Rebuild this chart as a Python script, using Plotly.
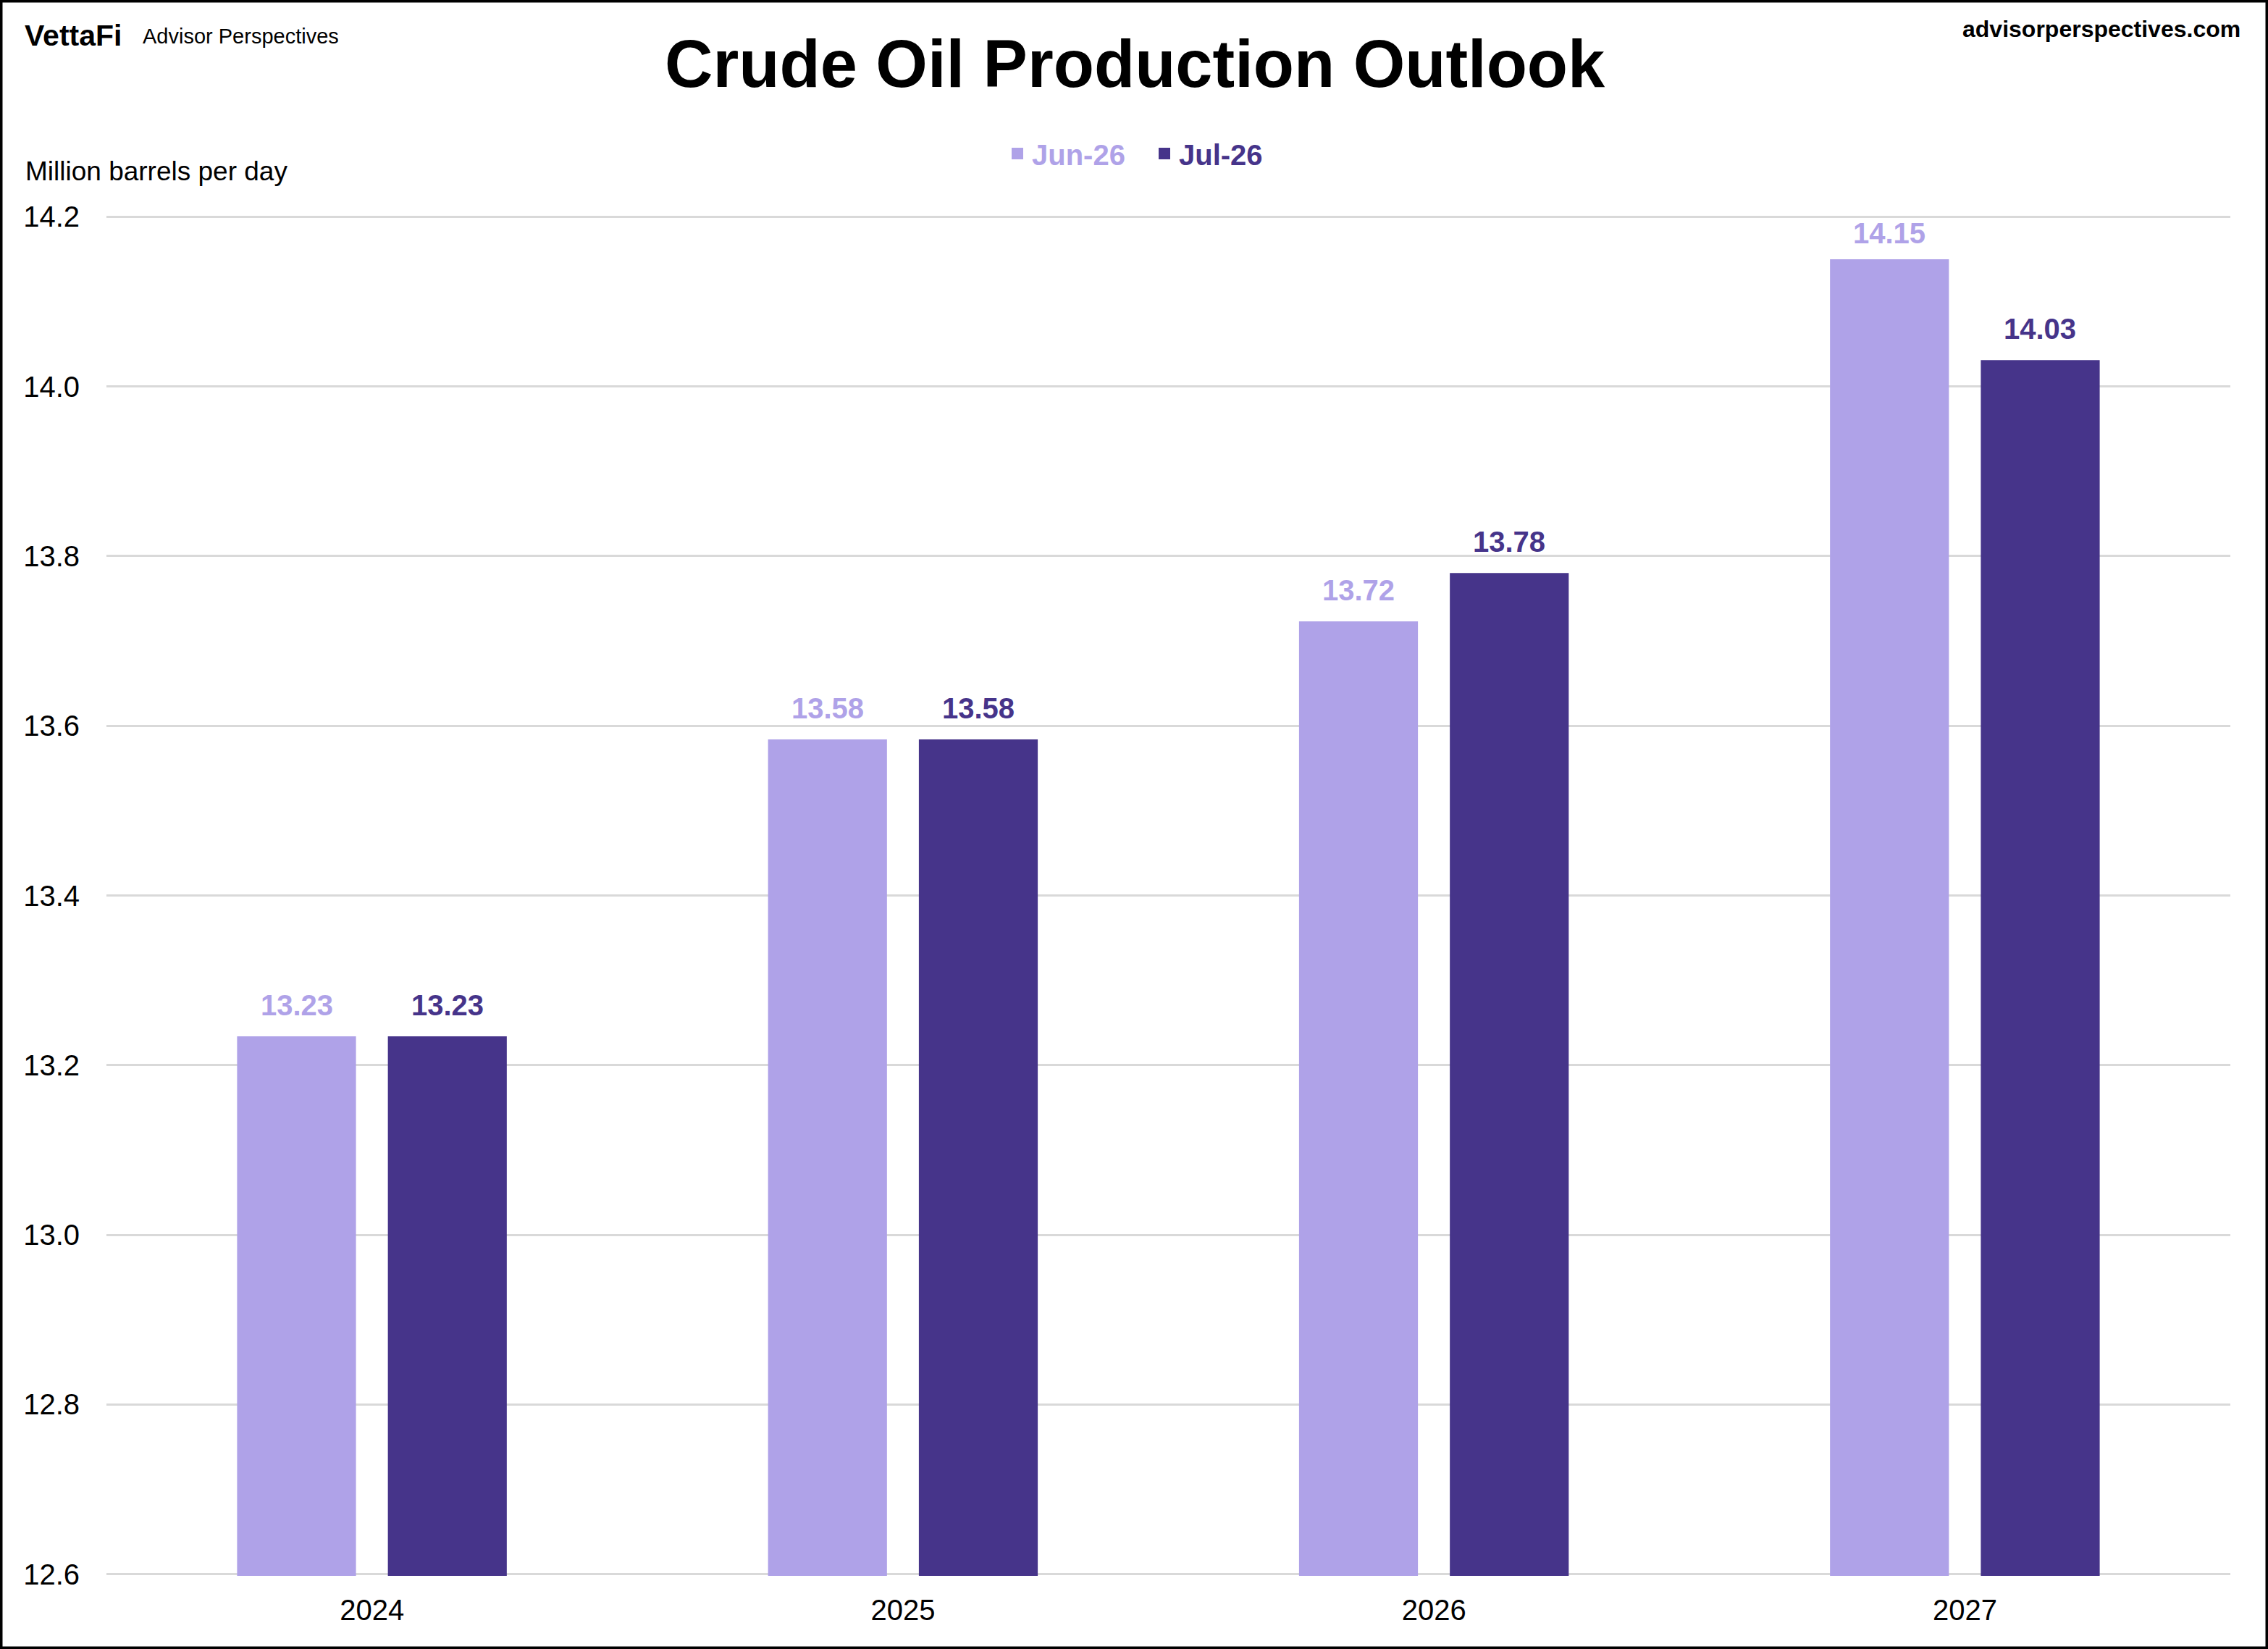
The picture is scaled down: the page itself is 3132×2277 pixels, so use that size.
import plotly.graph_objects as go

categories = ["2024", "2025", "2026", "2027"]
jun26 = [13.234, 13.584, 13.723, 14.15]
jul26 = [13.234, 13.584, 13.78, 14.031]
series_names = ["Jun-26", "Jul-26"]
series_colors = ["#AFA2E8", "#46348A"]
y_ticks = [12.6, 12.8, 13.0, 13.2, 13.4, 13.6, 13.8, 14.0, 14.2]

FONT = "Arial, 'Liberation Sans', sans-serif"
W, H = 3132, 2277
ML, MR, MT, MB = 147, 52, 297, 101
PW, PH = W - ML - MR, H - MT - MB
Y_RANGE = [12.598, 14.202]


def px(x):
    return (x - ML) / PW


def py(y):
    return (H - MB - y) / PH


fig = go.Figure()
for name, vals, col in zip(series_names, [jun26, jul26], series_colors):
    fig.add_trace(go.Bar(x=categories, y=vals, name=name, marker_color=col,
                         marker_line_width=0, showlegend=False))
# legend-only entries with square swatches
for name, col in zip(series_names, series_colors):
    fig.add_trace(go.Scatter(x=[categories[0]], y=[None], mode="markers",
                             marker=dict(symbol="square", size=20, color=col),
                             name=f"<span style='color:{col}'><b>{name}</b></span>",
                             showlegend=True, hoverinfo="skip"))

annotations = []
for vals, col, shift in zip([jun26, jul26], series_colors, [-104, 104]):
    for i, v in enumerate(vals):
        ys = 12 if v > Y_RANGE[1] - 0.1 else 19
        annotations.append(dict(x=i, y=v, xref="x", yref="y", text=f"<b>{v:.2f}</b>",
                                showarrow=False, xshift=shift, yshift=ys, yanchor="bottom",
                                font=dict(family=FONT, size=40, color=col)))

annotations += [
    dict(x=px(1567), y=py(88), xref="paper", yref="paper", text="<b>Crude Oil Production Outlook</b>",
         showarrow=False, xanchor="center", yanchor="middle",
         font=dict(family=FONT, size=92, color="#000000")),
    dict(x=px(32), y=py(49), xref="paper", yref="paper", text="<b>VettaFi</b>",
         showarrow=False, xanchor="left", yanchor="middle",
         font=dict(family=FONT, size=41, color="#000000")),
    dict(x=px(195), y=py(50), xref="paper", yref="paper", text="Advisor Perspectives",
         showarrow=False, xanchor="left", yanchor="middle",
         font=dict(family=FONT, size=29, color="#000000")),
    dict(x=px(3096), y=py(40), xref="paper", yref="paper", text="<b>advisorperspectives.com</b>",
         showarrow=False, xanchor="right", yanchor="middle",
         font=dict(family=FONT, size=32, color="#000000")),
    dict(x=px(33), y=py(236), xref="paper", yref="paper", text="Million barrels per day",
         showarrow=False, xanchor="left", yanchor="middle",
         font=dict(family=FONT, size=37, color="#000000")),
]

fig.update_layout(
    width=W, height=H,
    margin=dict(l=ML, r=MR, t=MT, b=MB, pad=0),
    paper_bgcolor="#FFFFFF", plot_bgcolor="#FFFFFF",
    barmode="group", bargap=0.432, bargroupgap=0.2115,
    font=dict(family=FONT, color="#000000"),
    showlegend=True,
    legend=dict(orientation="h", x=px(1588), y=py(212), xanchor="center", yanchor="middle",
                font=dict(family=FONT, size=40), itemsizing="trace", bgcolor="rgba(0,0,0,0)",
                tracegroupgap=0, itemwidth=30, entrywidth=158),
    annotations=annotations,
    shapes=[dict(type="rect", xref="paper", yref="paper",
                 x0=px(0), x1=px(W), y0=py(H), y1=py(0),
                 line=dict(color="#000000", width=7), fillcolor="rgba(0,0,0,0)", layer="above")],
    xaxis=dict(type="category", categoryorder="array", categoryarray=categories,
               range=[-0.5, len(categories) - 0.5],
               showgrid=False, showline=False, zeroline=False, ticks="",
               tickfont=dict(family=FONT, size=40, color="#000000"), ticklabelstandoff=20),
    yaxis=dict(range=Y_RANGE, tickvals=y_ticks, ticktext=[f"{t:.1f}" for t in y_ticks],
               showgrid=True, gridcolor="#D9D9D9", gridwidth=3, zeroline=False, showline=False,
               ticks="", tickfont=dict(family=FONT, size=40, color="#000000"), ticklabelstandoff=36),
)

fig.write_html("out.html")
